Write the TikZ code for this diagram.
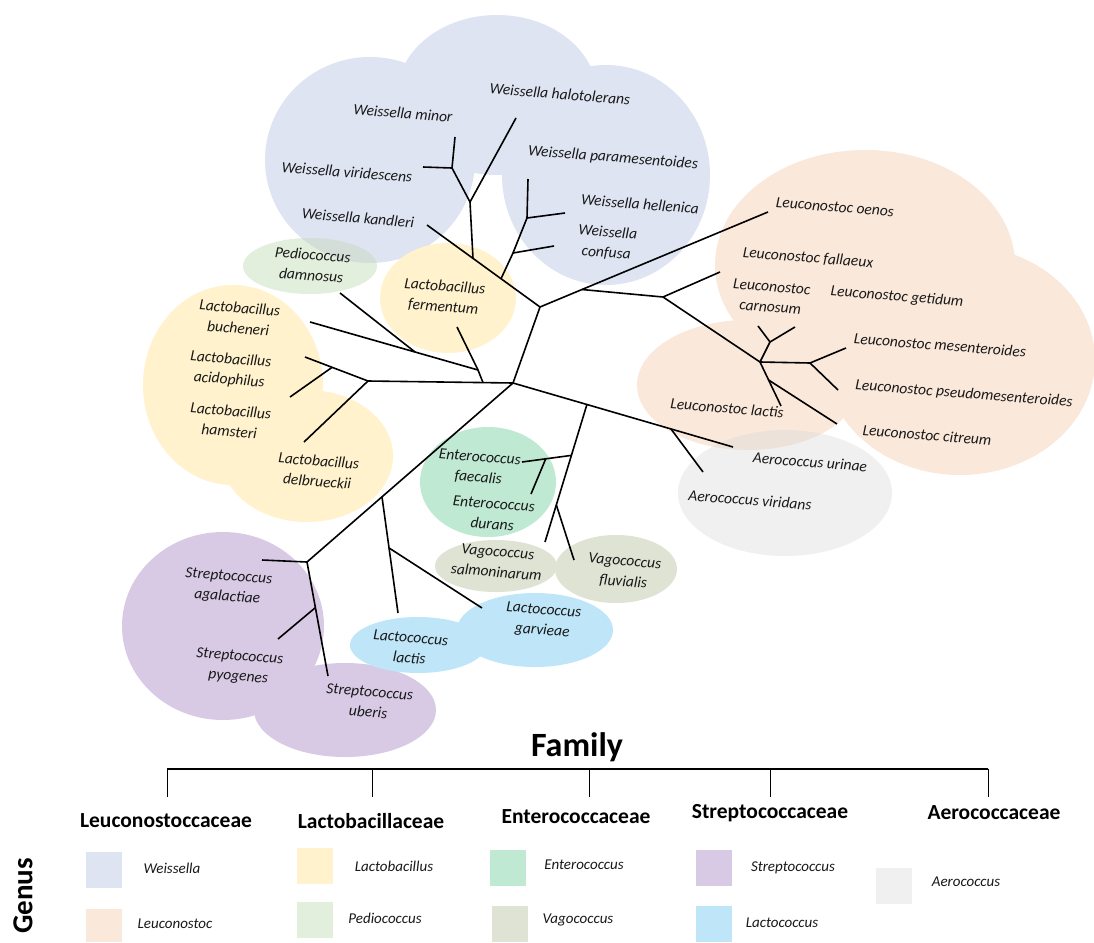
\documentclass[tikz,border=0pt]{standalone}
\usepackage{fontspec}
\setmainfont{Carlito}
\usetikzlibrary{calc}
\definecolor{cWei}{RGB}{222,228,242}
\definecolor{cLeu}{RGB}{250,232,219}
\definecolor{cLac}{RGB}{255,242,204}
\definecolor{cPed}{RGB}{227,239,221}
\definecolor{cEnt}{RGB}{192,233,211}
\definecolor{cVag}{RGB}{223,227,211}
\definecolor{cStr}{RGB}{216,202,229}
\definecolor{cLcc}{RGB}{190,230,248}
\definecolor{cAer}{RGB}{240,240,240}
\definecolor{cPW}{RGB}{210,222,215}
\definecolor{cAL}{RGB}{236,226,218}
\definecolor{ink}{RGB}{25,25,25}
\begin{document}
\begin{tikzpicture}[x=1pt,y=-1pt,
  br/.style={line width=1.6pt, line join=round, draw=black},
  lab/.style={font=\fontsize{15.5}{20.5}\selectfont\itshape, align=center, rotate=-4.5, inner sep=0pt, text=ink},
  leg/.style={font=\fontsize{15}{18}\selectfont\itshape, inner sep=0pt, text=ink},
  fam/.style={font=\fontsize{21.5}{24}\selectfont\bfseries, inner sep=0pt},
  sq/.style={minimum width=36pt, minimum height=36pt, inner sep=0pt, draw=none}]
\path[use as bounding box] (0,0) rectangle (1094,942);
\fill[white] (0,0) rectangle (1094,942);

% ---------- genus blobs ----------
% Weissella
\fill[cWei] (370,160) ellipse [x radius=105, y radius=103];
\fill[cWei] (497,95) ellipse [x radius=100, y radius=80];
\fill[cWei] (606,175) ellipse [x radius=104, y radius=110];
% Leuconostoc
\fill[cLeu] (865,265) ellipse [x radius=150, y radius=115];
\fill[cLeu] (960,360) ellipse [x radius=135, y radius=115];
\fill[cLeu] (748,385) ellipse [x radius=111, y radius=65];
% Lactobacillus (left)
\fill[cLac] (233,385) ellipse [x radius=90, y radius=100];
\fill[cLac] (307,456) ellipse [x radius=86, y radius=66];
% Streptococcus
\fill[cStr] (223,626) ellipse [x radius=101, y radius=94];
\fill[cStr] (345,710) ellipse [x radius=91, y radius=47];
% Enterococcus
\fill[cEnt] (488,482) ellipse [x radius=68, y radius=55];
% Vagococcus
\fill[cVag] (496,566) ellipse [x radius=61, y radius=26];
\fill[cVag] (616,569) ellipse [x radius=61, y radius=34];
% Lactococcus
\fill[cLcc] (418,645) ellipse [x radius=68, y radius=28];
\fill[cLcc] (535,630) ellipse [x radius=78, y radius=37];
% Aerococcus
\fill[cAer] (785,493) ellipse [x radius=107, y radius=63];
\begin{scope}
  \clip (785,493) ellipse [x radius=107, y radius=63];
  \fill[cAL] (748,385) ellipse [x radius=111, y radius=65];
  \fill[cAL] (960,360) ellipse [x radius=135, y radius=115];
\end{scope}
% Pediococcus
\fill[cPed] (310,266) ellipse [x radius=67, y radius=28];
\begin{scope}
  \clip (310,266) ellipse [x radius=67, y radius=28];
  \fill[cPW] (370,160) ellipse [x radius=105, y radius=103];
\end{scope}
% Lactobacillus fermentum
\fill[cLac] (448,298) ellipse [x radius=68, y radius=55];

% ---------- tree coordinates ----------
\coordinate (R) at (513,383);
\coordinate (F) at (540,307);
\coordinate (kandE) at (427,225);
\coordinate (J1) at ($(F)!0.593!(kandE)$);
\coordinate (J2) at ($(F)!0.345!(kandE)$);
\coordinate (G) at (470,202);
\coordinate (halE) at (516,118);
\coordinate (H) at (452,168);
\coordinate (minE) at (455,137);
\coordinate (virE) at (423,167);
\coordinate (Y1) at (513,253);
\coordinate (Y2) at (527,218);
\coordinate (parE) at (528,179);
\coordinate (confE) at (554,246);
\coordinate (helE) at (565,213);
\coordinate (oenE) at (768,212);
\coordinate (K) at ($(F)!0.184!(oenE)$);
\coordinate (L) at (663,297);
\coordinate (fallE) at (720,272);
\coordinate (M) at (760,362);
\coordinate (N) at (770,342);
\coordinate (carE) at (758,326);
\coordinate (getE) at (795,327);
\coordinate (O) at (810,363);
\coordinate (mesE) at (846,348);
\coordinate (pseE) at (838,390);
\coordinate (lactE) at (781,406);
\coordinate (P) at ($(M)!0.41!(lactE)$);
\coordinate (citE) at (837,424);
\coordinate (D) at (368,381);
\coordinate (A) at ($(R)!0.207!(D)$);
\coordinate (B) at (478,370);
\coordinate (fermE) at (457,327);
\coordinate (bucE) at (310,322);
\coordinate (C) at ($(B)!0.375!(bucE)$);
\coordinate (pedE) at (340,293);
\coordinate (acidE) at (305,357);
\coordinate (E) at ($(D)!0.57!(acidE)$);
\coordinate (hamE) at (290,397);
\coordinate (delE) at (304,442);
\coordinate (urinE) at (733,447);
\coordinate (Q) at ($(R)!0.718!(urinE)$);
\coordinate (virdE) at (703,472);
\coordinate (S) at ($(R)!0.336!(urinE)$);
\coordinate (salE) at (545,542);
\coordinate (T) at ($(S)!0.37!(salE)$);
\coordinate (faeE) at (522,462);
\coordinate (U) at ($(T)!0.52!(faeE)$);
\coordinate (durE) at (531,494);
\coordinate (V) at ($(S)!0.73!(salE)$);
\coordinate (flE) at (574,560);
\coordinate (W) at (307,562);
\coordinate (X) at ($(R)!0.636!(W)$);
\coordinate (lcE) at (398,613);
\coordinate (X2) at ($(X)!0.44!(lcE)$);
\coordinate (garE) at (482,608);
\coordinate (agaE) at (262,560);
\coordinate (ubE) at (328,676);
\coordinate (Z) at ($(W)!0.40!(ubE)$);
\coordinate (pyoE) at (278,639);

% ---------- tree branches ----------
\draw[br] (R) -- (F);
\draw[br] (F) -- (kandE);
\draw[br] (J1) -- (G) -- (halE);
\draw[br] (G) -- (H) -- (minE);
\draw[br] (H) -- (virE);
\draw[br] (J2) -- (Y1) -- (Y2) -- (parE);
\draw[br] (Y1) -- (confE);
\draw[br] (Y2) -- (helE);
\draw[br] (F) -- (oenE);
\draw[br] (K) -- (L) -- (fallE);
\draw[br] (L) -- (M) -- (lactE);
\draw[br] (M) -- (N) -- (carE);
\draw[br] (N) -- (getE);
\draw[br] (M) -- (O) -- (mesE);
\draw[br] (O) -- (pseE);
\draw[br] (P) -- (citE);
\draw[br] (R) -- (D) -- (acidE);
\draw[br] (E) -- (hamE);
\draw[br] (D) -- (delE);
\draw[br] (A) -- (B) -- (fermE);
\draw[br] (B) -- (bucE);
\draw[br] (C) -- (pedE);
\draw[br] (R) -- (urinE);
\draw[br] (Q) -- (virdE);
\draw[br] (S) -- (salE);
\draw[br] (T) -- (faeE);
\draw[br] (U) -- (durE);
\draw[br] (V) -- (flE);
\draw[br] (R) -- (W) -- (agaE);
\draw[br] (W) -- (ubE);
\draw[br] (Z) -- (pyoE);
\draw[br] (X) -- (lcE);
\draw[br] (X2) -- (garE);

% ---------- leaf labels ----------
\node[lab] (tWmin) at (403,113) {Weissella minor};
\node[lab] (tWhal) at (560,94) {Weissella halotolerans};
\node[lab] (tWvir) at (347,172) {Weissella viridescens};
\node[lab] (tWpar) at (613,158) {Weissella paramesentoides};
\node[lab] (tWhel) at (640,204) {Weissella hellenica};
\node[lab] (tWcon) at (607,243) {Weissella\\confusa};
\node[lab] (tWkan) at (358,218) {Weissella kandleri};
\node[lab] (tPed) at (312,265) {Pediococcus\\damnosus};
\node[lab] (tLfer) at (444,297) {Lactobacillus\\fermentum};
\node[lab] (tLbuc) at (239,318) {Lactobacillus\\bucheneri};
\node[lab] (tLaci) at (230,370) {Lactobacillus\\acidophilus};
\node[lab] (tLham) at (230,421) {Lactobacillus\\hamsteri};
\node[lab] (tLdel) at (318,471) {Lactobacillus\\delbrueckii};
\node[lab] (tLoen) at (835,207) {Leuconostoc oenos};
\node[lab] (tLfal) at (808,258) {Leuconostoc fallaeux};
\node[lab] (tLcar) at (771,297) {Leuconostoc\\carnosum};
\node[lab] (tLget) at (897,297) {Leuconostoc getidum};
\node[lab] (tLmes) at (940,345) {Leuconostoc mesenteroides};
\node[lab] (tLpse) at (964,394) {Leuconostoc pseudomesenteroides};
\node[lab] (tLlac) at (727,408) {Leuconostoc lactis};
\node[lab] (tLcit) at (927,435) {Leuconostoc citreum};
\node[lab] (tAuri) at (810,462) {Aerococcus urinae};
\node[lab] (tAvir) at (750,500) {Aerococcus viridans};
\node[lab] (tEfae) at (479,468) {Enterococcus\\faecalis};
\node[lab] (tEdur) at (493,514) {Enterococcus\\durans};
\node[lab] (tVsal) at (497,562) {Vagococcus\\salmoninarum};
\node[lab] (tVflu) at (624,572) {Vagococcus\\fluvialis};
\node[lab] (tLclac) at (410,648) {Lactococcus\\lactis};
\node[lab] (tLcgar) at (543,621) {Lactococcus\\garvieae};
\node[lab] (tSaga) at (228,587) {Streptococcus\\agalactiae};
\node[lab] (tSpyo) at (239,667) {Streptococcus\\pyogenes};
\node[lab] (tSube) at (369,702) {Streptococcus\\uberis};

% ---------- family legend ----------
\node[font=\fontsize{34}{36}\selectfont\bfseries, inner sep=0pt] (family) at (577,747) {Family};
\coordinate (h1) at (167,769);
\coordinate (h5) at (988,769);
\draw[line width=1.8pt] (h1) -- (h5);
\foreach \xx/\nm in {167/f1,372/f2,589/f3,770/f4,988/f5}{
  \coordinate (\nm t) at (\xx,769);
  \coordinate (\nm b) at (\xx,797);
  \draw[line width=0.9pt] (\nm t) -- (\nm b);
}
\node[fam] (fLeu) at (166,821) {Leuconostoccaceae};
\node[fam] (fLac) at (371,821) {Lactobacillaceae};
\node[fam] (fEnt) at (576,817) {Enterococcaceae};
\node[fam] (fStr) at (770,813) {Streptococcaceae};
\node[fam] (fAer) at (994,813) {Aerococcaceae};

\node[font=\fontsize{29}{30}\selectfont\bfseries, rotate=90, inner sep=0pt] (genus) at (23,896) {Genus};

\node[sq, fill=cWei] (sWei) at (104,870) {};
\node[leg] (lWei) at (172,868) {Weissella};
\fill[cLeu] (86,909) rectangle (122,942);
\coordinate (sLeu) at (104,925);
\node[leg] (lLeu) at (175,924) {Leuconostoc};
\node[sq, fill=cLac] (sLac) at (315,866) {};
\node[leg] (lLac) at (394,866) {Lactobacillus};
\node[sq, fill=cPed] (sPed) at (315,920) {};
\node[leg] (lPed) at (385,918) {Pediococcus};
\node[sq, fill=cEnt] (sEnt) at (508,868) {};
\node[leg] (lEnt) at (584,865) {Enterococcus};
\node[sq, fill=cVag] (sVag) at (510,924) {};
\node[leg] (lVag) at (578,920) {Vagococcus};
\node[sq, fill=cStr] (sStr) at (714,868) {};
\node[leg] (lStr) at (793,868) {Streptococcus};
\node[sq, fill=cLcc] (sLcc) at (714,924) {};
\node[leg] (lLcc) at (782,923) {Lactococcus};
\node[sq, fill=cAer] (sAer) at (894,886) {};
\node[leg] (lAer) at (966,882) {Aerococcus};
\end{tikzpicture}
\end{document}
